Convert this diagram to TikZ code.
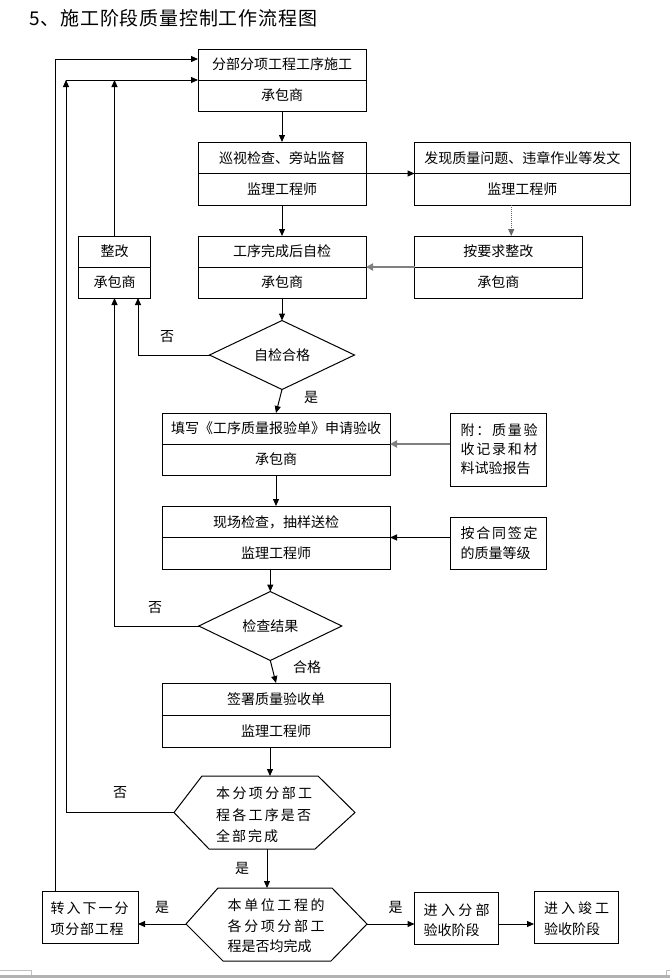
\documentclass[tikz,border=0pt]{standalone}
\usepackage{fontspec}
\setmainfont{Noto Sans CJK SC}
\usetikzlibrary{arrows.meta,shapes.geometric,calc}
\makeatletter
\def\spr@a#1{#1\spr@b}
\def\spr@b#1{\ifx#1\relax\else\hfill#1\expandafter\spr@b\fi}
\newcommand\spreadto[2]{\makebox[#1][l]{\spr@a#2\relax}}
\makeatother
\tikzset{
  ln/.style={line width=1pt},
  bx/.style={draw, line width=1pt, inner sep=0pt, outer sep=0pt},
  txt/.style={inner sep=0pt, font=\fontsize{14}{16}\selectfont},
  ltxt/.style={inner sep=0pt, anchor=west, font=\fontsize{14}{16}\selectfont},
  lbl/.style={inner sep=0pt, font=\fontsize{14}{16}\selectfont},
  dia/.style={draw, diamond, line width=1pt, inner sep=0pt, outer sep=0pt, font=\fontsize{14}{16}\selectfont},
  arr/.style={line width=1pt, -{Triangle[length=7pt,width=6pt]}},
  garr/.style={line width=2pt, draw=black!50, -{Triangle[length=7pt,width=7pt]}},
  darr/.style={line width=1pt, densely dotted, draw=black!60, -{Triangle[length=7pt,width=6pt]}}
}
\begin{document}
\begin{tikzpicture}[x=1pt,y=-1pt]
\useasboundingbox (0,0) rectangle (670,978);
\fill[white] (0,0) rectangle (670,978);
% title
\node[anchor=west, inner sep=0pt] (title) at (29,18) {\fontsize{19}{22}\selectfont\spreadto{288pt}{5、施工阶段质量控制工作流程图}};
% two-row boxes
\node[bx, minimum width=168pt, minimum height=62pt] (b1) at (282,80) {};
\node[bx, minimum width=168pt, minimum height=63pt] (b2) at (282,173.5) {};
\node[bx, minimum width=215.5pt, minimum height=63pt] (b3) at (522.25,173.5) {};
\node[bx, minimum width=72pt, minimum height=62pt] (b4) at (114.5,267) {};
\node[bx, minimum width=168pt, minimum height=62pt] (b5) at (282,267) {};
\node[bx, minimum width=167.5pt, minimum height=62pt] (b6) at (498.25,267) {};
\node[bx, minimum width=228pt, minimum height=62pt] (b7) at (276,444) {};
\node[bx, minimum width=228pt, minimum height=63pt] (b8) at (276,537.5) {};
\node[bx, minimum width=228pt, minimum height=64pt] (b9) at (276,715) {};
\foreach \b in {b1,b2,b3,b4,b5,b6,b7,b8,b9} \draw[ln] (\b.west) -- (\b.east);
\node[txt] (b1t) at ([yshift=15.5pt]b1.center) {分部分项工程工序施工};
\node[txt] (b1s) at ([yshift=-15.5pt]b1.center) {承包商};
\node[txt] (b2t) at ([yshift=15.5pt]b2.center) {巡视检查、旁站监督};
\node[txt] (b2s) at ([yshift=-15.5pt]b2.center) {监理工程师};
\node[txt] (b3t) at ([yshift=15.5pt]b3.center) {发现质量问题、违章作业等发文};
\node[txt] (b3s) at ([yshift=-15.5pt]b3.center) {监理工程师};
\node[txt] (b4t) at ([yshift=15.5pt]b4.center) {整改};
\node[txt] (b4s) at ([yshift=-15.5pt]b4.center) {承包商};
\node[txt] (b5t) at ([yshift=15.5pt]b5.center) {工序完成后自检};
\node[txt] (b5s) at ([yshift=-15.5pt]b5.center) {承包商};
\node[txt] (b6t) at ([yshift=15.5pt]b6.center) {按要求整改};
\node[txt] (b6s) at ([yshift=-15.5pt]b6.center) {承包商};
\node[txt] (b7t) at ([yshift=15.5pt]b7.center) {填写《工序质量报验单》申请验收};
\node[txt] (b7s) at ([yshift=-15.5pt]b7.center) {承包商};
\node[txt] (b8t) at ([yshift=15.5pt]b8.center) {现场检查，抽样送检};
\node[txt] (b8s) at ([yshift=-15.5pt]b8.center) {监理工程师};
\node[txt] (b9t) at ([yshift=16pt]b9.center) {签署质量验收单};
\node[txt] (b9s) at ([yshift=-16pt]b9.center) {监理工程师};
% side note boxes
\node[bx, minimum width=96pt, minimum height=73pt] (n1) at (498,449.5) {};
\node[ltxt] (n1a) at (460.5,430) {\spreadto{77pt}{附：质量验}};
\node[ltxt] (n1b) at (460.5,449) {\spreadto{77pt}{收记录和材}};
\node[ltxt] (n1c) at (460.5,468) {料试验报告};
\node[bx, minimum width=96pt, minimum height=52pt] (n2) at (498,543) {};
\node[ltxt] (n2a) at (460.5,533) {\spreadto{77pt}{按合同签定}};
\node[ltxt] (n2b) at (460.5,553) {的质量等级};
% bottom boxes
\node[bx, minimum width=96pt, minimum height=52pt] (b10) at (90,917) {};
\node[ltxt] (b10a) at (50.5,908) {\spreadto{78pt}{转入下一分}};
\node[ltxt] (b10b) at (50.5,929) {\spreadto{73pt}{项分部工程}};
\node[bx, minimum width=83.5pt, minimum height=52pt] (b11) at (456.25,918) {};
\node[ltxt] (b11a) at (423.5,910) {\spreadto{66pt}{进入分部}};
\node[ltxt] (b11b) at (423.5,930) {验收阶段};
\node[bx, minimum width=84pt, minimum height=52pt] (b12) at (576,917) {};
\node[ltxt] (b12a) at (544,908) {\spreadto{65pt}{进入竣工}};
\node[ltxt] (b12b) at (544,929) {验收阶段};
% diamonds
\node[dia, minimum width=145pt, minimum height=52pt] (d1) at (282,355) {自检合格};
\node[dia, minimum width=143pt, minimum height=52pt] (d2) at (270.3,626) {检查结果};
% hexagon 1
\coordinate (h1L) at (174,812.5);
\coordinate (h1R) at (355,812.5);
\coordinate (h1T) at (270,776);
\coordinate (h1B) at (267,849);
\draw[ln, line join=miter] (h1L) -- (202,776) -- (318,776) -- (h1R) -- (315,849) -- (209,849) -- cycle;
\node[ltxt] (h1a) at (216,793) {\spreadto{96pt}{本分项分部工}};
\node[ltxt] (h1b) at (216,815) {\spreadto{95pt}{程各工序是否}};
\node[ltxt] (h1c) at (216,836) {\spreadto{62pt}{全部完成}};
% hexagon 2
\coordinate (h2L) at (186,924);
\coordinate (h2R) at (367,924);
\coordinate (h2T) at (267,888);
\draw[ln, line join=miter] (h2L) -- (218,888) -- (332,888) -- (h2R) -- (331,961) -- (223,961) -- cycle;
\node[ltxt] (h2a) at (227.5,905) {\spreadto{97pt}{本单位工程的}};
\node[ltxt] (h2b) at (227.5,926) {\spreadto{97pt}{各分项分部工}};
\node[ltxt] (h2c) at (227.5,946) {程是否均完成};
% connectors
\draw[arr] (b1.south) -- (b2.north);
\draw[arr] (b2.east) -- (b3.west);
\draw[arr] (b2.south) -- (b5.north);
\draw[darr] ([xshift=-11pt]b3.south) -- ([xshift=-11pt]b3.south |- b6.north);
\draw[garr] (b6.west) -- (b5.east);
\draw[arr] (b5.south) -- (d1.north);
\draw[arr] (d1.west) -| ([xshift=23.5pt]b4.south);
\draw[arr] (d1.south) -- (b7.north);
\draw[garr] (n1.west |- b7.east) -- (b7.east);
\draw[arr] (b7.south) -- (b8.north);
\draw[arr] (n2.west |- b8.east) -- (b8.east);
\draw[arr] (b8.south -| d2.north) -- (d2.north);
\draw[arr] (d2.west) -| (b4.south);
\draw[arr] (d2.south) -- (b9.north);
\draw[arr] (b9.south -| h1T) -- (h1T);
\coordinate (j1) at (66,80);
\draw[arr] (h1L) -| (j1);
\draw[arr] (j1) -- (j1 -| b1.west);
\draw[arr] (b4.north) -- (b4.north |- j1);
\draw[arr] (h1B) -- (h2T);
\draw[arr] (h2L) -- (h2L -| b10.east);
\draw[arr] (h2R) -- (h2R -| b11.west);
\draw[arr] (b11.east |- h2R) -- (b12.west |- h2R);
\draw[arr] ([xshift=-35pt]b10.north) |- ([yshift=21pt]b1.west);
% labels
\node[lbl] (l1) at (167,337) {否};
\node[lbl] (l2) at (311,397) {是};
\node[lbl] (l3) at (155,608) {否};
\node[lbl] (l4) at (307,667) {合格};
\node[lbl] (l5) at (120,793) {否};
\node[lbl] (l6) at (242,868) {是};
\node[lbl] (l7) at (162,907) {是};
\node[lbl] (l8) at (395.5,907) {是};
% page edge
\fill[black!30] (0,975) rectangle (670,978);
\draw[black!25, line width=0.6pt] (0,970) -- (31,970) -- (31,975);
\draw[black!25, line width=0.6pt] (666.5,975) -- (666.5,970) -- (670,970);
\end{tikzpicture}
\end{document}
